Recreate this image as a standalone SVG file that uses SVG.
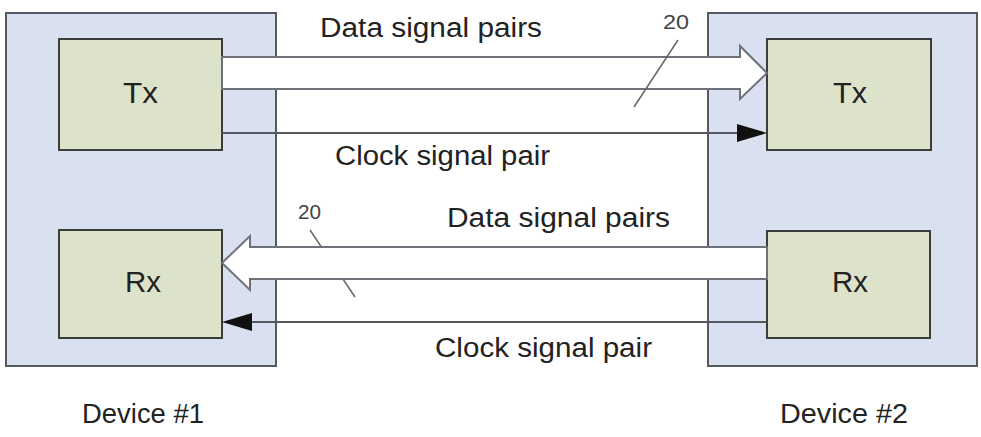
<svg xmlns="http://www.w3.org/2000/svg" width="981" height="437" viewBox="0 0 981 437">
<style>
.dev{fill:#d9e0ef;stroke:#555a60;stroke-width:2}
.blk{fill:#dde2cb;stroke:#3a3d3a;stroke-width:2}
.lbl{font-family:"Liberation Sans",Arial,sans-serif;fill:#222;font-size:27px}
.big{font-size:29px}
.num{font-size:20px;fill:#444}
.bus{fill:#fff;stroke:#6e7278;stroke-width:2;stroke-linejoin:miter}
.wire{stroke:#55595e;stroke-width:2;fill:none}
.head{fill:#111;stroke:none}
.slash{stroke:#666;stroke-width:1.5}
</style>
<rect width="981" height="437" fill="#fff"/>
<g id="device1">
<rect class="dev" x="6" y="13" width="270" height="353"/>
<text class="lbl" x="82" y="423" textLength="122" lengthAdjust="spacingAndGlyphs">Device #1</text>
</g>
<g id="device2">
<rect class="dev" x="708" y="13" width="269" height="353"/>
<text class="lbl" x="780" y="423" textLength="128" lengthAdjust="spacingAndGlyphs">Device #2</text>
</g>
<g id="tx1">
<rect class="blk" x="59" y="39" width="163" height="111"/>
<text class="lbl big" x="123" y="103" textLength="35" lengthAdjust="spacingAndGlyphs">Tx</text>
</g>
<g id="rx1">
<rect class="blk" x="59" y="230" width="163" height="108"/>
<text class="lbl big" x="125" y="292" textLength="36" lengthAdjust="spacingAndGlyphs">Rx</text>
</g>
<g id="tx2">
<rect class="blk" x="767" y="39" width="164" height="111"/>
<text class="lbl big" x="833" y="103" textLength="34" lengthAdjust="spacingAndGlyphs">Tx</text>
</g>
<g id="rx2">
<rect class="blk" x="767" y="231" width="163" height="107"/>
<text class="lbl big" x="832" y="292" textLength="36" lengthAdjust="spacingAndGlyphs">Rx</text>
</g>
<g id="connectors">
<polygon class="bus" points="222,57 740,57 740,46 767,73 740,99 740,89 222,89"/>
<line class="wire" x1="222" y1="133" x2="740" y2="133"/>
<polygon class="head" points="737,124 767,133 737,142"/>
<line class="slash" x1="310" y1="230" x2="355" y2="297"/>
<polygon class="bus" points="767,247 250,247 250,236 222,263 250,290 250,279 767,279"/>
<line class="wire" x1="767" y1="322" x2="250" y2="322"/>
<polygon class="head" points="252,313 222,322 252,331"/>
<line class="slash" x1="678" y1="40" x2="634" y2="107"/>
</g>
<g id="labels">
<text class="lbl" x="320" y="37" textLength="222" lengthAdjust="spacingAndGlyphs">Data signal pairs</text>
<text class="lbl" x="335" y="165" textLength="215" lengthAdjust="spacingAndGlyphs">Clock signal pair</text>
<text class="lbl" x="447" y="227" textLength="223" lengthAdjust="spacingAndGlyphs">Data signal pairs</text>
<text class="lbl" x="435" y="357" textLength="217" lengthAdjust="spacingAndGlyphs">Clock signal pair</text>
<text class="lbl num" x="663" y="29" textLength="26" lengthAdjust="spacingAndGlyphs">20</text>
<text class="lbl num" x="298" y="219" textLength="23" lengthAdjust="spacingAndGlyphs">20</text>
</g>
</svg>
